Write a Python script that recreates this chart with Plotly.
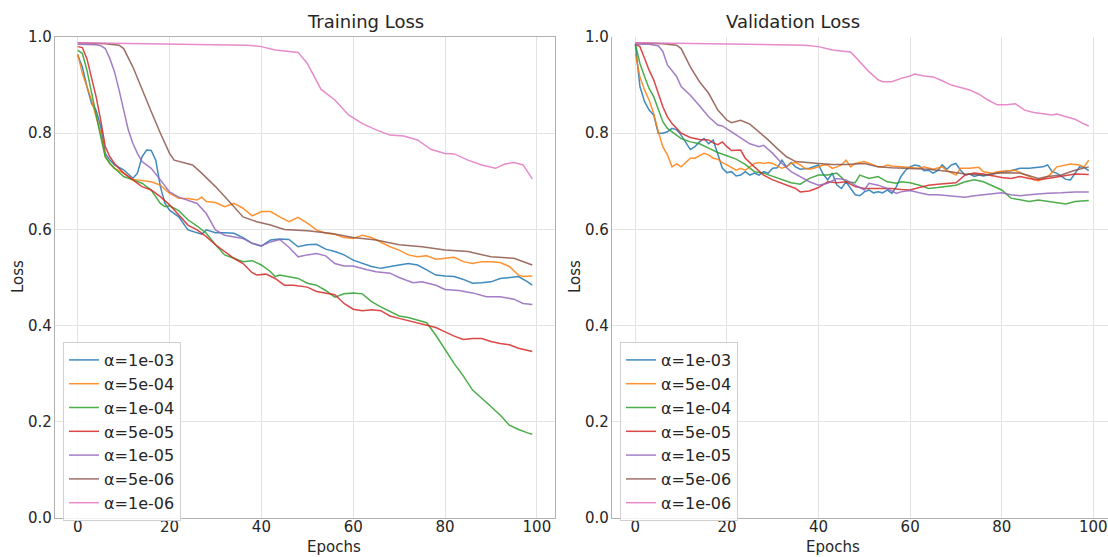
import plotly.graph_objects as go

labels = ["α=1e-03", "α=5e-04", "α=1e-04", "α=5e-05", "α=1e-05", "α=5e-06", "α=1e-06"]
colors = ["#1f77b4", "#ff7f0e", "#2ca02c", "#d62728", "#9467bd", "#8c564b", "#e377c2"]
x_ticks = [0, 20, 40, 60, 80, 100]
y_ticks = [0.0, 0.2, 0.4, 0.6, 0.8, 1.0]

# ---------------- Training loss (epoch, value) ----------------
tr_e_1e3 = [0,1,2,3,4,5,6,7,8,10,12,13,14,15,16,17,18,19,20,22,24,26,27,28,30,32,34,36,38,40,42,44,46,48,50,52,54,56,58,60,62,64,66,68,70,72,74,76,78,80,82,84,86,88,90,92,94,96,98,99]
tr_v_1e3 = [0.962,0.938,0.897,0.862,0.848,0.814,0.758,0.744,0.734,0.724,0.706,0.717,0.751,0.765,0.764,0.744,0.689,0.654,0.640,0.626,0.599,0.592,0.590,0.599,0.593,0.593,0.592,0.583,0.571,0.565,0.578,0.580,0.579,0.564,0.568,0.569,0.559,0.554,0.547,0.536,0.529,0.523,0.519,0.523,0.526,0.529,0.526,0.516,0.505,0.503,0.502,0.496,0.488,0.489,0.491,0.498,0.500,0.502,0.491,0.484]

tr_e_5e4 = [0,1,2,3,4,5,6,7,8,10,12,14,16,18,20,22,24,26,27,28,30,32,34,36,38,40,42,44,46,48,50,52,54,56,58,60,62,64,66,68,70,72,74,76,78,80,82,84,86,88,90,92,94,96,97,99]
tr_v_5e4 = [0.965,0.924,0.897,0.869,0.834,0.800,0.751,0.737,0.727,0.717,0.704,0.701,0.699,0.692,0.675,0.665,0.664,0.661,0.667,0.658,0.656,0.647,0.654,0.644,0.628,0.637,0.637,0.626,0.616,0.625,0.613,0.599,0.592,0.590,0.583,0.581,0.588,0.583,0.574,0.564,0.557,0.547,0.543,0.545,0.538,0.540,0.542,0.533,0.529,0.533,0.533,0.531,0.523,0.505,0.502,0.503]

tr_e_1e4 = [0,1,2,3,4,5,6,7,8,10,12,14,16,18,19,20,22,24,26,28,30,32,34,36,38,40,42,43,44,46,48,50,52,54,56,58,60,62,64,66,68,70,72,74,76,78,80,82,84,86,88,90,92,94,96,98,99]
tr_v_1e4 = [0.972,0.966,0.931,0.883,0.834,0.793,0.751,0.737,0.727,0.710,0.703,0.696,0.682,0.654,0.647,0.649,0.639,0.620,0.607,0.592,0.568,0.547,0.540,0.533,0.535,0.526,0.512,0.502,0.505,0.502,0.498,0.488,0.484,0.473,0.459,0.466,0.468,0.466,0.450,0.439,0.429,0.420,0.417,0.412,0.406,0.380,0.349,0.321,0.295,0.266,0.249,0.231,0.214,0.193,0.184,0.177,0.174]

tr_e_5e5 = [0,1,2,3,4,5,6,7,8,10,12,14,16,18,20,22,24,26,28,30,32,34,36,38,39,41,43,45,47,50,52,54,56,58,60,62,64,66,68,70,72,74,76,78,80,82,84,86,88,90,92,94,96,99]
tr_v_5e5 = [0.980,0.978,0.955,0.917,0.876,0.827,0.772,0.751,0.737,0.717,0.703,0.689,0.682,0.668,0.651,0.630,0.609,0.599,0.585,0.568,0.554,0.540,0.529,0.510,0.505,0.507,0.498,0.484,0.484,0.480,0.471,0.467,0.464,0.446,0.434,0.431,0.433,0.431,0.420,0.415,0.410,0.406,0.401,0.396,0.387,0.378,0.371,0.373,0.373,0.367,0.363,0.360,0.353,0.346]

tr_e_1e5 = [0,2,4,5,6,7,8,9,10,11,12,13,14,16,18,20,22,24,26,28,30,32,34,36,38,40,42,44,46,48,50,52,54,56,58,60,63,65,68,70,73,75,78,80,83,86,89,92,95,97,99]
tr_v_1e5 = [0.985,0.985,0.984,0.982,0.976,0.955,0.928,0.890,0.848,0.807,0.779,0.758,0.741,0.727,0.703,0.678,0.667,0.661,0.654,0.633,0.599,0.588,0.585,0.581,0.571,0.566,0.574,0.579,0.563,0.543,0.547,0.550,0.545,0.529,0.524,0.524,0.516,0.512,0.509,0.500,0.489,0.491,0.484,0.475,0.473,0.468,0.460,0.460,0.455,0.446,0.444]

tr_e_5e6 = [0,3,6,9,10,12,14,16,18,20,21,23,25,27,30,33,36,39,42,45,50,55,60,65,70,75,80,85,90,95,99]
tr_v_5e6 = [0.988,0.987,0.986,0.983,0.976,0.938,0.890,0.845,0.800,0.758,0.744,0.739,0.734,0.717,0.689,0.658,0.626,0.616,0.609,0.600,0.597,0.592,0.583,0.578,0.568,0.564,0.557,0.554,0.543,0.540,0.526]

tr_e_1e6 = [0,10,20,30,37,40,43,48,50,53,56,59,62,65,68,71,74,77,80,82,85,88,91,93,95,97,99]
tr_v_1e6 = [0.988,0.987,0.986,0.985,0.983,0.980,0.973,0.968,0.945,0.891,0.869,0.838,0.820,0.807,0.796,0.794,0.786,0.766,0.758,0.757,0.744,0.734,0.727,0.736,0.739,0.734,0.705]

# ---------------- Validation loss (epoch, value) ----------------
va_e_1e3 = [0,1,2,3,4,5,6,7,8,9,10,11,12,13,14,15,16,17,18,19,20,21,22,23,24,25,26,27,28,29,30,31,32,33,34,35,36,38,40,41,42,43,44,45,46,47,48,49,50,51,52,53,54,55,56,57,58,59,60,61,62,63,64,65,66,67,68,69,70,71,72,73,74,75,76,78,80,82,84,86,88,89,90,91,92,93,94,95,96,97,98,99]
va_v_1e3 = [0.985,0.897,0.866,0.848,0.838,0.800,0.800,0.803,0.810,0.807,0.796,0.782,0.766,0.772,0.782,0.789,0.778,0.786,0.758,0.727,0.718,0.720,0.711,0.713,0.720,0.713,0.717,0.713,0.720,0.717,0.727,0.728,0.744,0.730,0.739,0.730,0.725,0.727,0.734,0.715,0.703,0.717,0.692,0.685,0.699,0.685,0.672,0.670,0.678,0.682,0.676,0.678,0.676,0.682,0.675,0.689,0.710,0.723,0.730,0.734,0.732,0.722,0.723,0.717,0.722,0.734,0.725,0.734,0.737,0.723,0.713,0.715,0.710,0.713,0.711,0.715,0.720,0.722,0.727,0.727,0.728,0.730,0.734,0.720,0.717,0.711,0.704,0.703,0.717,0.730,0.729,0.722]

va_e_5e4 = [0,1,2,3,4,5,6,7,8,9,10,11,12,13,14,15,16,17,18,19,20,21,22,23,24,25,26,27,28,29,30,31,32,33,34,35,36,37,38,39,40,41,42,43,44,45,46,47,48,49,50,52,53,54,55,56,58,60,62,63,65,67,68,70,71,73,75,76,78,79,81,83,84,86,87,88,90,91,92,94,95,96,97,98,99]
va_v_5e4 = [0.965,0.917,0.890,0.869,0.841,0.803,0.772,0.755,0.730,0.736,0.730,0.739,0.748,0.748,0.753,0.758,0.755,0.748,0.746,0.739,0.734,0.729,0.723,0.727,0.723,0.730,0.737,0.739,0.737,0.739,0.737,0.732,0.727,0.730,0.737,0.739,0.734,0.727,0.725,0.727,0.730,0.734,0.734,0.727,0.730,0.734,0.744,0.730,0.737,0.739,0.741,0.734,0.730,0.730,0.734,0.732,0.730,0.729,0.727,0.730,0.725,0.730,0.722,0.713,0.727,0.727,0.729,0.720,0.717,0.720,0.722,0.723,0.718,0.710,0.703,0.701,0.710,0.718,0.730,0.734,0.736,0.735,0.734,0.730,0.744]

va_e_1e4 = [0,1,2,3,4,5,6,7,8,9,10,12,14,16,18,20,22,24,26,28,30,32,34,36,38,40,42,44,46,48,49,51,53,55,57,58,60,62,64,66,68,70,72,74,76,78,80,82,84,86,88,90,92,94,96,99]
va_v_1e4 = [0.985,0.945,0.918,0.893,0.876,0.848,0.824,0.810,0.803,0.796,0.789,0.782,0.778,0.769,0.760,0.753,0.746,0.735,0.720,0.717,0.710,0.704,0.697,0.694,0.706,0.713,0.713,0.717,0.699,0.697,0.713,0.706,0.710,0.699,0.696,0.699,0.697,0.692,0.685,0.687,0.690,0.692,0.699,0.703,0.699,0.690,0.682,0.665,0.661,0.658,0.661,0.658,0.656,0.653,0.658,0.660]

va_e_5e5 = [0,1,2,3,4,5,6,7,8,9,10,12,14,16,17,18,19,20,21,23,24,26,28,30,32,34,35,36,38,40,42,44,46,48,50,52,54,56,58,60,62,64,66,68,70,72,74,76,78,80,82,84,86,88,90,93,96,99]
va_v_5e5 = [0.985,0.980,0.956,0.931,0.911,0.883,0.855,0.834,0.820,0.810,0.800,0.791,0.787,0.786,0.780,0.776,0.782,0.772,0.764,0.765,0.748,0.730,0.713,0.703,0.696,0.689,0.685,0.678,0.680,0.687,0.699,0.697,0.699,0.689,0.685,0.685,0.685,0.685,0.683,0.682,0.687,0.692,0.694,0.696,0.697,0.713,0.717,0.715,0.711,0.708,0.706,0.710,0.706,0.703,0.706,0.711,0.715,0.714]

va_e_1e5 = [0,3,5,6,7,9,10,12,14,16,18,19,21,23,25,27,28,30,32,34,36,38,40,42,44,46,48,50,51,53,55,57,58,60,62,64,66,68,70,72,74,76,78,80,82,84,86,88,90,93,96,99]
va_v_1e5 = [0.985,0.985,0.982,0.970,0.942,0.918,0.897,0.879,0.857,0.834,0.817,0.815,0.803,0.791,0.778,0.772,0.775,0.758,0.737,0.720,0.710,0.699,0.692,0.696,0.706,0.703,0.692,0.682,0.696,0.692,0.685,0.675,0.678,0.681,0.676,0.672,0.672,0.670,0.668,0.667,0.670,0.672,0.674,0.676,0.672,0.670,0.672,0.674,0.675,0.676,0.678,0.678]

va_e_5e6 = [0,3,6,9,10,12,14,16,18,19,20,21,23,25,27,29,31,33,35,37,40,43,46,50,53,56,60,64,68,72,76,80,84,86,88,90,93,96,99]
va_v_5e6 = [0.988,0.987,0.986,0.983,0.976,0.938,0.907,0.883,0.848,0.838,0.827,0.822,0.827,0.819,0.803,0.786,0.768,0.751,0.741,0.739,0.737,0.735,0.735,0.737,0.730,0.728,0.727,0.725,0.721,0.715,0.713,0.718,0.717,0.711,0.706,0.710,0.713,0.723,0.730]

va_e_1e6 = [0,10,20,30,37,40,43,47,49,51,53,54,56,58,60,61,63,65,67,69,71,73,75,77,79,81,83,85,87,89,91,92,94,96,98,99]
va_v_1e6 = [0.988,0.987,0.986,0.985,0.983,0.980,0.973,0.969,0.949,0.928,0.911,0.907,0.907,0.914,0.919,0.923,0.919,0.917,0.909,0.900,0.895,0.890,0.881,0.869,0.859,0.859,0.861,0.848,0.843,0.841,0.838,0.840,0.834,0.829,0.819,0.815]

train_x = [tr_e_1e3, tr_e_5e4, tr_e_1e4, tr_e_5e5, tr_e_1e5, tr_e_5e6, tr_e_1e6]
train_y = [tr_v_1e3, tr_v_5e4, tr_v_1e4, tr_v_5e5, tr_v_1e5, tr_v_5e6, tr_v_1e6]
val_x = [va_e_1e3, va_e_5e4, va_e_1e4, va_e_5e5, va_e_1e5, va_e_5e6, va_e_1e6]
val_y = [va_v_1e3, va_v_5e4, va_v_1e4, va_v_5e5, va_v_1e5, va_v_5e6, va_v_1e6]

FONT = "DejaVu Sans"
TXT = "#262626"

fig = go.Figure()
for i in range(len(labels)):
    fig.add_trace(go.Scatter(x=train_x[i], y=train_y[i], mode="lines", name=labels[i],
                             line=dict(color=colors[i], width=1.5), opacity=0.85,
                             xaxis="x", yaxis="y", legend="legend"))
for i in range(len(labels)):
    fig.add_trace(go.Scatter(x=val_x[i], y=val_y[i], mode="lines", name=labels[i],
                             line=dict(color=colors[i], width=1.5), opacity=0.85,
                             xaxis="x2", yaxis="y2", legend="legend2"))

W, H = 1108, 557
ml, mr, mt, mb = 55, 0, 37, 39
pw = W - ml - mr
ph = H - mt - mb
d1 = [0, (555 - ml) / pw]
d2 = [(612 - ml) / pw, 1]

def px_x(p):
    return (p - ml) / pw

def px_y(p):
    return (H - mb - p) / ph

axis_common = dict(
    showgrid=True, gridcolor="#e3e3e3", gridwidth=1,
    zeroline=False, showline=True, linecolor="#b0b0b0", linewidth=1.2,
    ticks="", ticklen=0,
    tickfont=dict(family=FONT, size=15, color=TXT),
)
xstand = -5
ystand = -1

legend_common = dict(xanchor="left", yanchor="top",
                     bgcolor="rgba(255,255,255,0.85)", bordercolor="#d0d0d0", borderwidth=1,
                     font=dict(family=FONT, size=16, color=TXT), tracegroupgap=0)

title_font = dict(family=FONT, size=18, color=TXT)
label_font = dict(family=FONT, size=15, color=TXT)

fig.update_layout(
    width=W, height=H,
    margin=dict(l=ml, r=mr, t=mt, b=mb),
    paper_bgcolor="white", plot_bgcolor="white",
    font=dict(family=FONT, color=TXT),
    xaxis=dict(domain=d1, range=[-4.95, 103.95], tickvals=x_ticks, mirror=True,
               ticklabelstandoff=xstand, **axis_common),
    yaxis=dict(domain=[0, 1], range=[0, 1], tickvals=y_ticks, tickformat=".1f", mirror=True,
               ticklabelstandoff=ystand, **axis_common),
    xaxis2=dict(domain=d2, range=[-5.1, 103.2], tickvals=x_ticks, anchor="y2",
                ticklabelstandoff=xstand, **axis_common),
    yaxis2=dict(domain=[0, 1], range=[0, 1], tickvals=y_ticks, tickformat=".1f", anchor="x2",
                ticklabelstandoff=ystand, **axis_common),
    legend=dict(x=px_x(63), y=px_y(342), **legend_common),
    legend2=dict(x=px_x(620), y=px_y(342), **legend_common),
    annotations=[
        dict(text="Training Loss", x=px_x(305), y=px_y(22), xref="paper", yref="paper",
             yanchor="middle", showarrow=False, font=title_font),
        dict(text="Validation Loss", x=px_x(862), y=px_y(22), xref="paper", yref="paper",
             yanchor="middle", showarrow=False, font=title_font),
        dict(text="Epochs", x=px_x(305), y=px_y(547), xref="paper", yref="paper",
             yanchor="middle", showarrow=False, font=label_font),
        dict(text="Epochs", x=px_x(862), y=px_y(547), xref="paper", yref="paper",
             yanchor="middle", showarrow=False, font=label_font),
        dict(text="Loss", x=px_x(18), y=px_y(277), xref="paper", yref="paper", textangle=-90,
             xanchor="center", yanchor="middle", showarrow=False, font=label_font),
        dict(text="Loss", x=px_x(575), y=px_y(277), xref="paper", yref="paper", textangle=-90,
             xanchor="center", yanchor="middle", showarrow=False, font=label_font),
    ],
)

fig.write_html("out.html", config={"displayModeBar": False},
               post_script="document.body.style.margin='0';document.body.style.overflow='hidden';")
